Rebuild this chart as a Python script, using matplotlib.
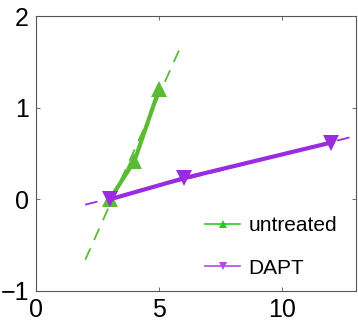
import numpy as np
import matplotlib.pyplot as plt
from matplotlib.lines import Line2D

# ── Data ─────────────────────────────────────────────────────────────────────
untreated_x = [3, 4, 5]
untreated_y = [0.0, 0.42, 1.2]
dapt_x = [3, 6, 12]
dapt_y = [0.0, 0.23, 0.62]

# dashed linear-fit extents
untreated_fit_x = [2, 5.9]
dapt_fit_x = [2, 13]

GREEN = '#5bbb35'
PURPLE = '#9a2be0'
LEG_GREEN = '#22cc22'
LEG_PURPLE = '#bb44ee'

plt.rcParams.update({
    'font.family': ['Liberation Sans', 'DejaVu Sans'],
    'font.size': 18,
})

fig = plt.figure(figsize=(3.58, 3.23), dpi=100)
ax = fig.add_axes([36 / 358, 1 - 291 / 323, 320 / 358, 275 / 323])

# least-squares fits drawn dashed
for xs, ys, fx, col in [(untreated_x, untreated_y, untreated_fit_x, GREEN),
                        (dapt_x, dapt_y, dapt_fit_x, PURPLE)]:
    k, b = np.polyfit(xs, ys, 1)
    fx = np.array(fx)
    ax.plot(fx, k * fx + b, color=col, lw=1.3, dashes=(7, 5))

ax.plot(untreated_x, untreated_y, color=GREEN, lw=3, marker='^', ms=12,
        markeredgewidth=0)
ax.plot(dapt_x, dapt_y, color=PURPLE, lw=3, marker='v', ms=12,
        markeredgewidth=0)

ax.set_xlim(0, 13)
ax.set_ylim(-1, 2)
ax.set_xticks([0, 5, 10])
ax.set_yticks([-1, 0, 1, 2])
ax.tick_params(direction='in', length=3, width=0.6, color='#555555',
               top=True, right=True, labelsize=18)
ax.tick_params(axis='x', pad=5)
ax.tick_params(axis='y', pad=5)
for s in ax.spines.values():
    s.set_linewidth(0.8)
    s.set_color('#555555')

handles = [
    Line2D([], [], color=LEG_GREEN, lw=1.2, marker='^', ms=6, markeredgewidth=0),
    Line2D([], [], color=LEG_PURPLE, lw=1.2, marker='v', ms=6, markeredgewidth=0),
]
ax.legend(handles, ['untreated', 'DAPT'], loc='lower right', frameon=False,
          fontsize=15, handlelength=1.7, handletextpad=0.4, labelspacing=1.15,
          bbox_to_anchor=(1.0, -0.02))

fig.savefig('out.png', dpi=100)
